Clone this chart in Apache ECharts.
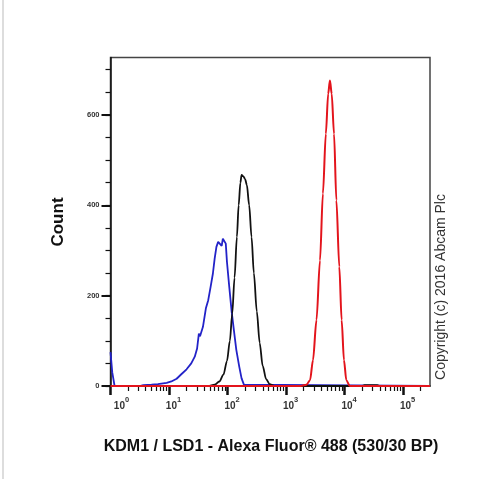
<!DOCTYPE html>
<html><head><meta charset="utf-8">
<script src="https://cdn.jsdelivr.net/npm/echarts@6/dist/echarts.min.js"></script>
<style>html,body{margin:0;padding:0;background:#fff}#c{width:504px;height:479px}</style>
</head><body><div id="c"></div>
<script>
// x values are log10(fluorescence intensity); y values are cell counts
const xDecades = [0, 1, 2, 3, 4, 5];
const yMajorTicks = [0, 200, 400, 600];
const yMinorTicks = [0, 50, 100, 150, 200, 250, 300, 350, 400, 450, 500, 550, 600, 650, 700];
const xMin = 0, xMax = 5.46, yMin = 0, yMax = 727;

const blueSeries = [
  [0, 75], [0.03, 30], [0.07, 0], [0.5, 0], [0.56, 2], [0.7, 3], [0.81, 4], [0.96, 7],
  [1.04, 10], [1.13, 16], [1.21, 26], [1.30, 37], [1.38, 50], [1.44, 65], [1.48, 83],
  [1.51, 116], [1.53, 110], [1.56, 113], [1.58, 131], [1.63, 172], [1.67, 190],
  [1.71, 219], [1.75, 249], [1.78, 282], [1.81, 308], [1.84, 319], [1.87, 321],
  [1.90, 310], [1.92, 326], [1.94, 330], [1.97, 315], [1.99, 275], [2.03, 219],
  [2.07, 165], [2.11, 122], [2.15, 80], [2.20, 43], [2.24, 17], [2.28, 3], [2.31, 0], [5.46, 0]
];
const blackSeries = [
  [0, 0], [1.67, 0], [1.78, 3], [1.86, 10], [1.93, 25], [1.99, 55], [2.04, 100],
  [2.08, 160], [2.12, 240], [2.16, 330], [2.19, 400], [2.22, 450], [2.24, 467],
  [2.27, 464], [2.30, 458], [2.33, 445], [2.37, 400], [2.41, 330], [2.45, 250],
  [2.50, 165], [2.55, 95], [2.60, 45], [2.66, 15], [2.72, 4], [2.80, 0],
  [4.30, 0], [4.34, 2], [4.56, 2], [4.60, 0], [5.46, 0]
];
const redSeries = [
  [0, 0], [3.25, 0], [3.35, 3], [3.41, 13], [3.46, 57], [3.52, 146], [3.58, 278],
  [3.63, 426], [3.68, 558], [3.72, 647], [3.75, 676], [3.78, 647], [3.82, 558],
  [3.86, 411], [3.91, 264], [3.95, 146], [3.99, 57], [4.03, 13], [4.09, 0], [5.46, 0]
];

const FONT = '"Liberation Sans", Arial, sans-serif';
const xMinorTicks = [];
xDecades.forEach(d => { for (let k = 2; k <= 9; k++) { const v = d + Math.log10(k); if (v < xMax) xMinorTicks.push(v); } });

const chart = echarts.init(document.getElementById('c'), null, { renderer: 'canvas' });
chart.setOption({
  animation: false,
  backgroundColor: '#fff',
  grid: { left: 110.5, top: 57.5, right: 74, bottom: 93, show: true, borderColor: '#444', borderWidth: 1.5 },
  xAxis: [{
    type: 'value', min: xMin, max: xMax, gridIndex: 0, position: 'bottom',
    axisLine: { show: true, lineStyle: { color: '#111', width: 1.5 } },
    axisTick: { show: true, customValues: xDecades, length: 9, lineStyle: { color: '#111', width: 2.5 } },
    splitLine: { show: false },
    axisLabel: {
      show: true, customValues: xDecades, margin: 10, color: '#222',
      formatter: v => (v === 0 ? '{z|10}{s|' + v + '}' : '{b|10}{s|' + v + '}'),
      rich: {
        b: { fontFamily: FONT, fontSize: 10, fontWeight: 'bold', color: '#333', padding: [0, 0, 0, 9], lineHeight: 15, verticalAlign: 'bottom' },
        z: { fontFamily: FONT, fontSize: 10, fontWeight: 'bold', color: '#333', padding: [0, 0, 0, 22], lineHeight: 15, verticalAlign: 'bottom' },
        s: { fontFamily: FONT, fontSize: 7.5, fontWeight: 'bold', color: '#333', lineHeight: 15, verticalAlign: 'top' }
      }
    }
  }, {
    type: 'value', min: xMin, max: xMax, gridIndex: 0, position: 'bottom',
    axisLine: { show: false },
    axisTick: { show: true, customValues: xMinorTicks, length: 5, lineStyle: { color: '#111', width: 1.2 } },
    axisLabel: { show: false }, splitLine: { show: false }
  }],
  yAxis: [{
    type: 'value', min: yMin, max: yMax, gridIndex: 0, position: 'left',
    axisLine: { show: true, lineStyle: { color: '#111', width: 1.5 } },
    axisTick: { show: true, customValues: yMajorTicks, length: 9, lineStyle: { color: '#111', width: 2 } },
    splitLine: { show: false },
    axisLabel: { show: true, customValues: yMajorTicks, margin: 11, fontFamily: FONT, fontSize: 7.5, fontWeight: 'bold', color: '#333' }
  }, {
    type: 'value', min: yMin, max: yMax, gridIndex: 0, position: 'left',
    axisLine: { show: false },
    axisTick: { show: true, customValues: yMinorTicks, length: 5, lineStyle: { color: '#111', width: 1.2 } },
    axisLabel: { show: false }, splitLine: { show: false }
  }],
  series: [
    { type: 'line', data: blueSeries, showSymbol: false, smooth: false, lineStyle: { color: '#2323c8', width: 1.8 }, z: 3 },
    { type: 'line', data: blackSeries, showSymbol: false, smooth: 0.3, smoothMonotone: 'x', lineStyle: { color: '#111', width: 1.8 }, z: 4 },
    { type: 'line', data: redSeries, showSymbol: false, smooth: 0.3, smoothMonotone: 'x', lineStyle: { color: '#e3141c', width: 2 }, z: 5 }
  ],
  graphic: [
    { type: 'line', shape: { x1: 3, y1: 0, x2: 3, y2: 479 }, style: { stroke: '#ddd', lineWidth: 2 }, silent: true },
    { type: 'text', x: 58, y: 222, rotation: Math.PI / 2, style: { text: 'Count', fontFamily: FONT, fontSize: 17, fontWeight: 'bold', fill: '#111', align: 'center', verticalAlign: 'middle' } },
    { type: 'text', x: 271, y: 447, style: { text: 'KDM1 / LSD1 - Alexa Fluor® 488 (530/30 BP)', fontFamily: FONT, fontSize: 16, fontWeight: 'bold', fill: '#111', align: 'center', verticalAlign: 'middle' } },
    { type: 'text', x: 441, y: 287, rotation: Math.PI / 2, style: { text: 'Copyright (c) 2016 Abcam Plc', fontFamily: FONT, fontSize: 14, fill: '#333', align: 'center', verticalAlign: 'middle' } }
  ]
});
</script>
</body></html>
